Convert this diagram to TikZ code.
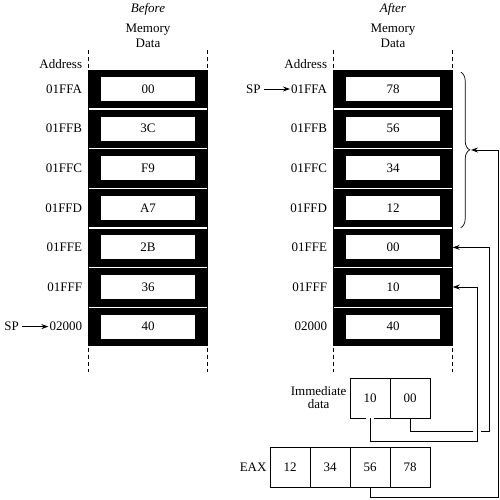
\documentclass[tikz,border=0pt]{standalone}
\usepackage{fontspec}
\setmainfont{Liberation Serif}
\usetikzlibrary{positioning,arrows.meta,decorations.pathreplacing}

\begin{document}
\begin{tikzpicture}[x=1pt,y=-1pt,
  every node/.style={font=\fontsize{13}{15}\selectfont},
  cell/.style={draw=black,fill=black,line width=0.4pt,minimum width=119pt,minimum height=37.4pt,inner sep=0pt},
  val/.style={fill=white,minimum width=94pt,minimum height=24pt,inner sep=0pt},
  addr/.style={left=5pt of #1,inner sep=1pt},
  reg/.style={draw,line width=0.8pt,outer sep=0pt,minimum width=40pt,minimum height=40pt,inner sep=0pt},
  guide/.style={dash pattern=on 4pt off 3pt,line width=0.6pt},
  ptr/.style={line width=0.9pt,-{Stealth[length=7pt,width=5pt]}},
  jump/.style={preaction={draw=white,line width=8pt,-}},
  brc/.style={decorate,decoration={brace,amplitude=9pt},line width=0.7pt}]
\useasboundingbox (0,0) rectangle (500,500);
% memory before
\foreach \i/\a/\v in {0/01FFA/00,1/01FFB/3C,2/01FFC/F9,3/01FFD/A7,4/01FFE/2B,5/01FFF/36,6/02000/40} {
  \node[cell] (b\i) at (148,{89+39.6*\i}) {};
  \node[val] at (b\i) {\v};
  \node[addr=b\i] (ba\i) {\a};
}
% memory after
\foreach \i/\a/\v in {0/01FFA/78,1/01FFB/56,2/01FFC/34,3/01FFD/12,4/01FFE/00,5/01FFF/10,6/02000/40} {
  \node[cell] (a\i) at (393,{89+39.6*\i}) {};
  \node[val] at (a\i) {\v};
  \node[addr=a\i] (aa\i) {\a};
}
\foreach \c/\x/\t in {b/148/Before,a/393/After} {
  \draw[line width=0.7pt] (\c0.north west) rectangle (\c6.south east);
  \node (\c title) at (\x,9) {\textit{\t}};
  \node[align=center] (\c mem) at (\x,36) {Memory\\Data};
  \node[above left=2pt and 5pt of \c0.north west,anchor=base east,inner sep=1pt] (\c addr) {Address};
  \draw[guide] (\c0.north west) ++(0,-2) -- ++(0,-20) (\c0.north east) ++(0,-2) -- ++(0,-20);
  \draw[guide] (\c6.south west) ++(0,2) -- ++(0,24) (\c6.south east) ++(0,2) -- ++(0,24);
}
% stack pointers
\node[left=26pt of ba6] (bsp) {SP};
\draw[ptr] (bsp) -- (ba6);
\node[left=26pt of aa0] (asp) {SP};
\draw[ptr] (asp) -- (aa0);
% immediate data and EAX
\node[reg] (im1) at (370,398) {10};
\node[reg,right=0pt of im1] (im2) {00};
\node[left=0pt of im1,align=center,font=\fontsize{13}{13}\selectfont] (imlbl) {Immediate\\data};
\foreach \i/\v in {1/12,2/34,3/56,4/78}
  \node[reg] (e\i) at ({250+40*\i},467) {\v};
\node[left=0pt of e1] (eaxlbl) {EAX};
% brace and connectors
\draw[brc] ([xshift=8pt,yshift=-2pt]a0.north east) -- ([xshift=8pt,yshift=-1pt]a3.south east);
\coordinate (bt) at (471,150);
\coordinate (r1) at (477,441);
\coordinate (r2) at (489,431);
\coordinate (r3) at (498,497);
\draw[ptr] (im2.south) |- (r2) |- (a4.east);
\draw[ptr,jump] (im1.south) |- (r1) |- (a5.east);
\draw[ptr] (e3.south) |- (r3) |- (bt);
\end{tikzpicture}
\end{document}
